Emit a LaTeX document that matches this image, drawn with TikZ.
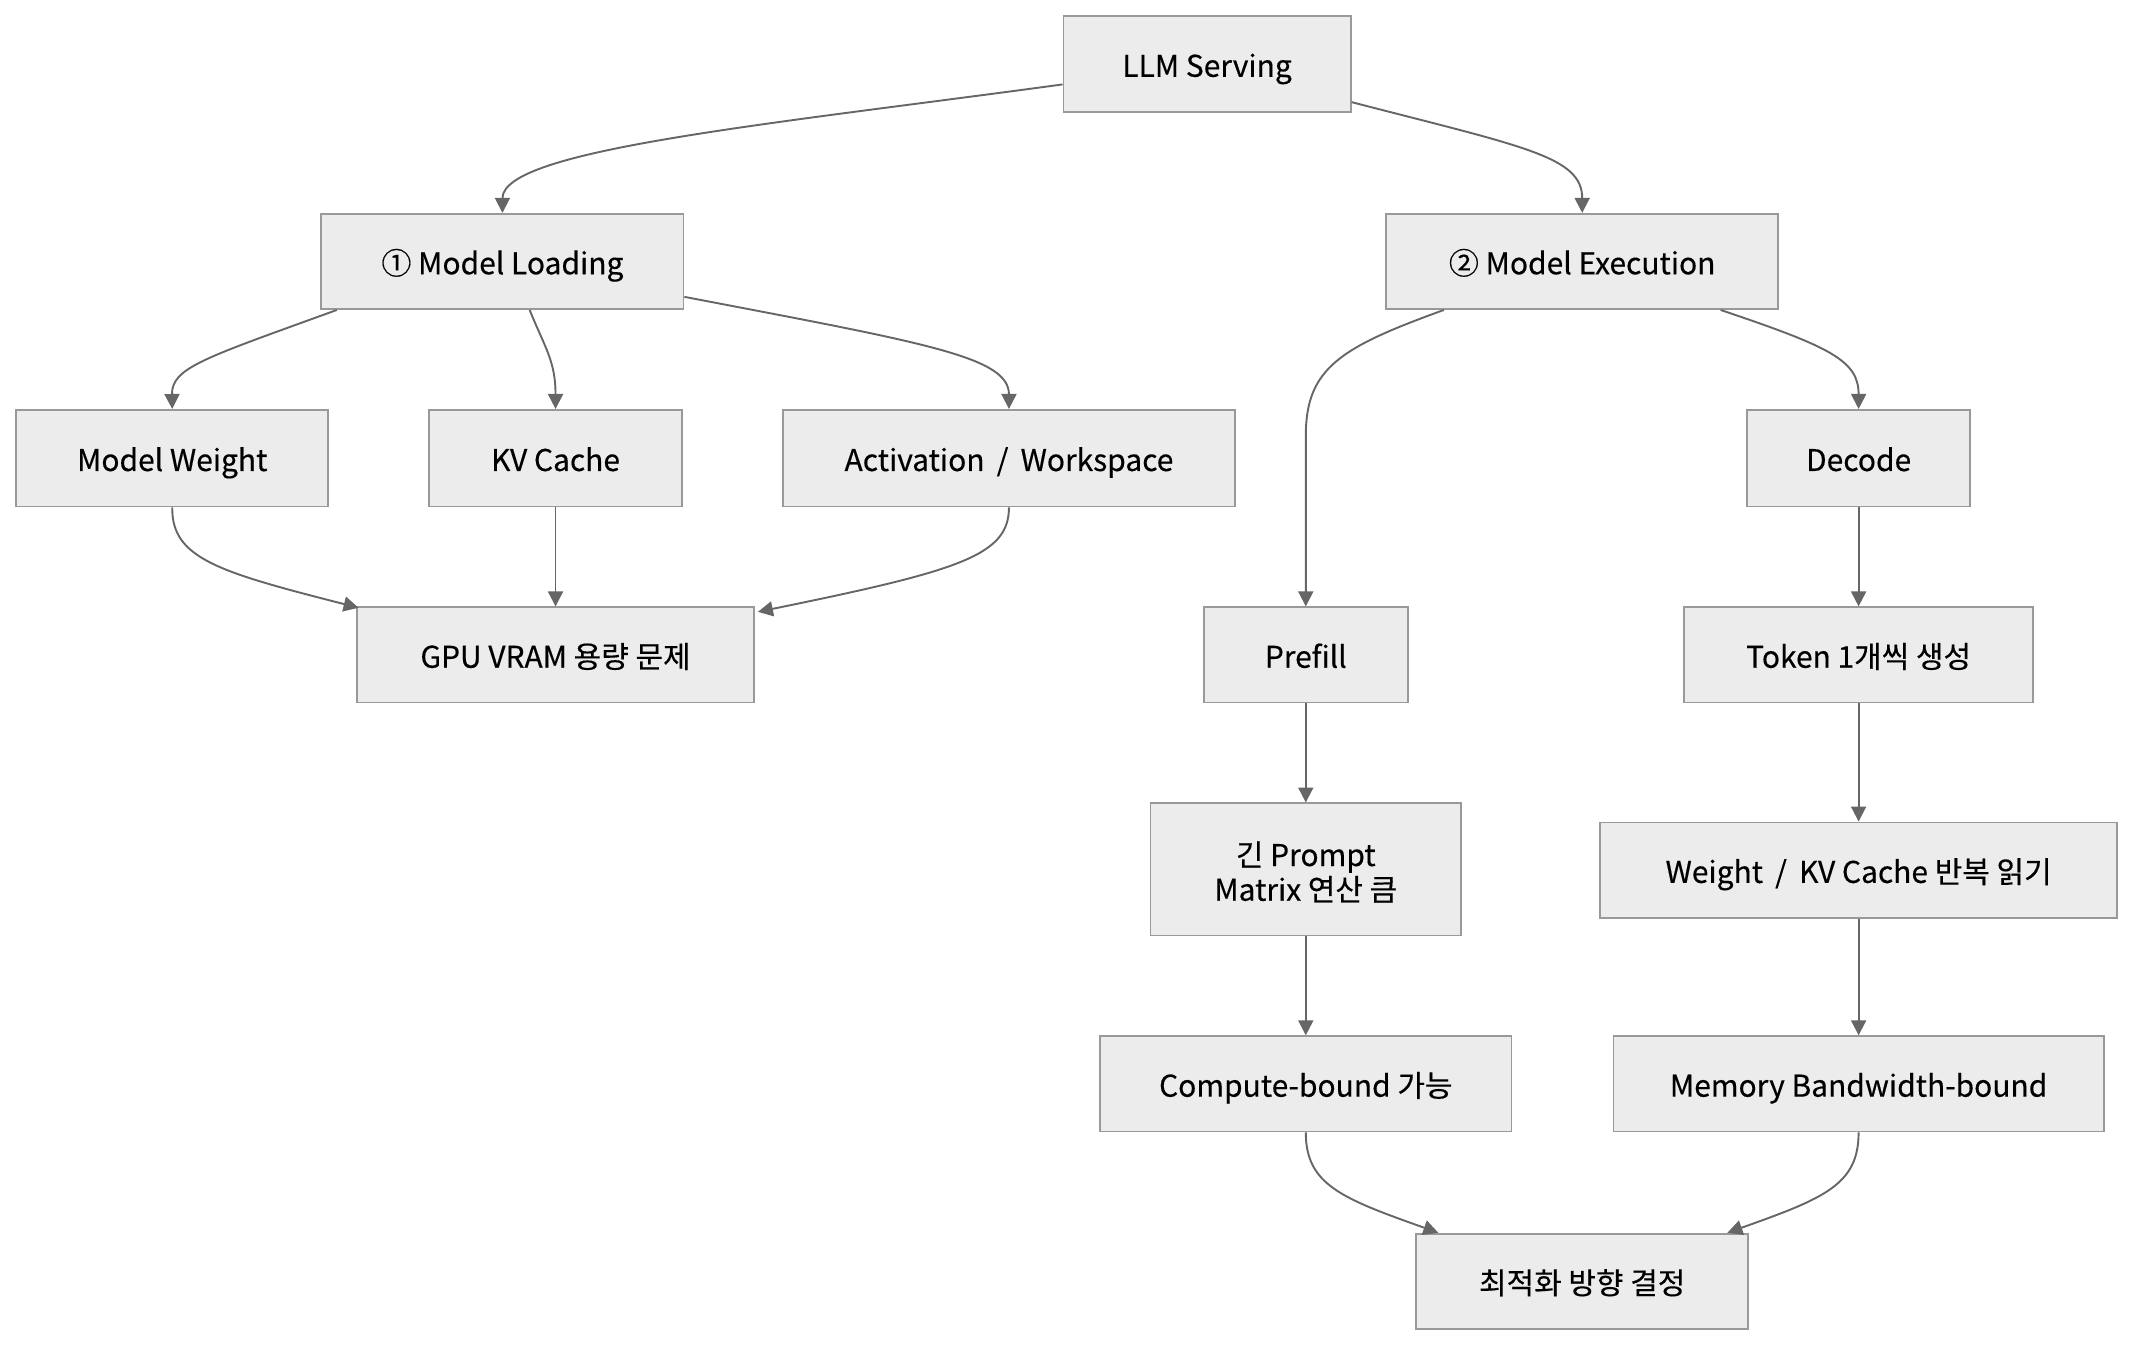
\documentclass[tikz,border=0pt]{standalone}
\usepackage{fontspec}
\setmainfont{Noto Sans CJK KR}[FakeBold=0.35]
\usetikzlibrary{arrows.meta,calc}
\definecolor{boxfill}{HTML}{ECECEC}
\definecolor{boxline}{HTML}{999999}
\definecolor{edgecol}{HTML}{666666}
\newcommand{\slsep}{\hspace{4pt}/\hspace{4pt}}
\tikzset{
  box/.style={draw=boxline, fill=boxfill, line width=1.3pt, rectangle, inner sep=0pt,
    align=center, text=black, font=\fontsize{22}{25.5}\selectfont,
    text height=20pt, text depth=1.2pt},
  twoline/.style={text height=47pt, text depth=1pt},
  arr/.style={draw=edgecol, line width=1.4pt, -{Triangle[length=11pt,width=11pt]}},
}
\begin{document}
\begin{tikzpicture}[x=1pt,y=-1pt]
\useasboundingbox (0,0) rectangle (1568,989);
% nodes
\node[box, minimum width=211, minimum height=70] (llm) at (886.5,47) {LLM Serving};
\node[box, minimum width=266, minimum height=70] (ml) at (369,192) {① Model Loading};
\node[box, minimum width=288, minimum height=70] (mex) at (1162,192) {② Model Execution};
\node[box, minimum width=229, minimum height=71] (mw) at (126.5,336.5) {Model Weight};
\node[box, minimum width=186, minimum height=71] (kv) at (408,336.5) {KV Cache};
\node[box, minimum width=332, minimum height=71] (act) at (741,336.5) {Activation \slsep{} Workspace};
\node[box, minimum width=164, minimum height=71] (dec) at (1365,336.5) {Decode};
\node[box, minimum width=292, minimum height=70] (gpu) at (408,481) {GPU VRAM 용량 문제};
\node[box, minimum width=150, minimum height=70] (pf) at (959,481) {Prefill};
\node[box, minimum width=256, minimum height=70] (tok) at (1365,481) {Token 1개씩 생성};
\node[box, twoline, minimum width=228, minimum height=97] (pr) at (959,638.5) {긴 Prompt\\Matrix 연산 큼};
\node[box, minimum width=380, minimum height=70] (wkv) at (1365,639) {Weight \slsep{} KV Cache 반복 읽기};
\node[box, minimum width=302, minimum height=70] (cb) at (959,796) {Compute-bound 가능};
\node[box, minimum width=360, minimum height=70] (mb) at (1365,796) {Memory Bandwidth-bound};
\node[box, minimum width=244, minimum height=70] (opt) at (1162,941) {최적화 방향 결정};
% edges
\draw[arr] ($(llm.west)+(0,15)$) .. controls (560,92) and (369,110) .. (ml.north);
\draw[arr] ($(llm.east)+(0,28)$) .. controls (1120,108) and (1162,115) .. (mex.north);
\draw[arr] ($(ml.south west)+(12,0)$) .. controls (150,263) and (126,270) .. (mw.north);
\draw[arr] ($(ml.south)+(20,0)$) .. controls (400,255) and (408,265) .. (kv.north);
\draw[arr] ($(ml.east)+(0,26)$) .. controls (680,252) and (741,262) .. (act.north);
\draw[arr] (mw.south) .. controls (126,410) and (160,420) .. ($(gpu.north west)+(2,1)$);
\draw[arr] (kv.south) -- (gpu.north);
\draw[arr] (act.south) .. controls (741,408) and (705,419) .. ($(gpu.north east)+(2,4)$);
\draw[arr] ($(mex.south west)+(43,0)$) .. controls (985,255) and (959,270) .. (959,320) -- (pf.north);
\draw[arr] ($(mex.south east)+(-43,0)$) .. controls (1345,255) and (1365,265) .. (dec.north);
\draw[arr] (dec.south) -- (tok.north);
\draw[arr] (pf.south) -- (pr.north);
\draw[arr] (tok.south) -- (wkv.north);
\draw[arr] (pr.south) -- (cb.north);
\draw[arr] (wkv.south) -- (mb.north);
\draw[arr] (cb.south) .. controls (959,870) and (985,880) .. ($(opt.north west)+(17,0)$);
\draw[arr] (mb.south) .. controls (1365,870) and (1340,880) .. ($(opt.north east)+(-16,0)$);
\end{tikzpicture}
\end{document}
